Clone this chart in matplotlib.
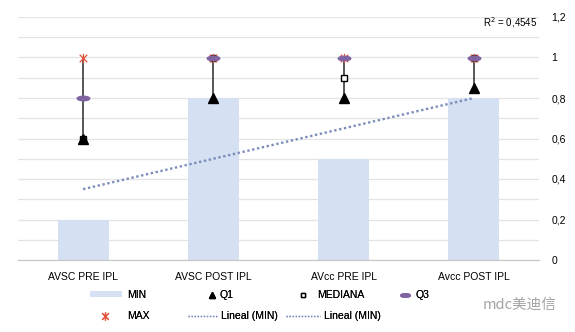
import numpy as np
import matplotlib
matplotlib.use("Agg")
import matplotlib.pyplot as plt
from matplotlib.path import Path
from matplotlib.lines import Line2D
from matplotlib.patches import Patch
from matplotlib.ticker import FuncFormatter, MultipleLocator

plt.rcParams['font.family'] = ['Liberation Sans', 'DejaVu Sans']

categories = ["AVSC PRE IPL", "AVSC POST IPL", "AVcc PRE IPL", "Avcc POST IPL"]
v_min = [0.2, 0.8, 0.5, 0.8]
v_q1 = [0.6, 0.8, 0.8, 0.85]
v_median = [0.6, 1.0, 0.9, 1.0]
v_q3 = [0.8, 1.0, 1.0, 1.0]
v_max = [1.0, 1.0, 1.0, 1.0]

bar_color = "#d5e0f2"
q3_color = "#8064a2"
max_color = "#e2533e"
trend_color = "#7b8dbb"
grid_color = "#e4e4e4"
FS = 7.5

# custom markers: a flat pill for Q3 and an asterisk-star for MAX
t = np.linspace(0, 2 * np.pi, 40)
pill = Path(np.column_stack([np.cos(t), 0.36 * np.sin(t)]), closed=True)
star = Path([(0, -1), (0, 1), (-0.8, -0.8), (0.8, 0.8), (-0.8, 0.8), (0.8, -0.8)],
            [Path.MOVETO, Path.LINETO, Path.MOVETO, Path.LINETO, Path.MOVETO, Path.LINETO])

W, H = 575, 332
fig = plt.figure(figsize=(W / 100, H / 100), dpi=100)
ax = fig.add_axes([18 / W, 1 - 260 / H, (539 - 18) / W, (260 - 17) / H])

x = np.arange(1, len(categories) + 1)
ax.bar(x, v_min, width=0.39, color=bar_color, zorder=2)

# high-low lines
ax.vlines(x, v_q1, v_max, color="#2a2a2a", lw=1.1, zorder=3)

ax.plot(x, v_median, ls="none", marker="s", ms=3.8, mfc="white", mec="black", mew=1, zorder=4)
ax.plot(x, v_q1, ls="none", marker="^", ms=6.5, color="black", zorder=5)
ax.plot(x, v_max, ls="none", marker=star, ms=6.8, mec=max_color, mew=0.9, zorder=6)
ax.plot(x, v_q3, ls="none", marker=pill, ms=9, mfc=q3_color, mec=q3_color, zorder=7)

# linear trend of MIN
coef = np.polyfit(x, v_min, 1)
fit = np.polyval(coef, x)
ss_res = np.sum((np.array(v_min) - fit) ** 2)
ss_tot = np.sum((np.array(v_min) - np.mean(v_min)) ** 2)
r2 = 1 - ss_res / ss_tot
ax.plot(x, fit, ls=(0, (1, 1.1)), color=trend_color, lw=1.7, zorder=3)
ax.text(4.49, 1.17, "R$^2$ = " + f"{r2:.4f}".replace(".", ","), ha="right", va="center",
        fontsize=7)

ax.set_xlim(0.5, 4.5)
ax.set_ylim(0, 1.2)
ax.yaxis.set_major_locator(MultipleLocator(0.2))
ax.yaxis.set_minor_locator(MultipleLocator(0.1))
ax.yaxis.set_major_formatter(FuncFormatter(lambda v, p: f"{v:.1f}".rstrip("0").rstrip(".").replace(".", ",")))
ax.yaxis.tick_right()
ax.tick_params(axis="y", which="both", length=0, pad=9, labelsize=FS)
ax.tick_params(axis="x", length=0, pad=9, labelsize=FS)
ax.set_xticks(x)
ax.set_xticklabels(categories)
ax.grid(axis="y", which="both", color=grid_color, lw=0.9, zorder=0)
ax.set_axisbelow(True)
for s in ["top", "left", "right"]:
    ax.spines[s].set_visible(False)
ax.spines["bottom"].set_color("#c8c8c8")
ax.spines["bottom"].set_linewidth(0.9)

# legend entries, each placed by its handle box (pixels)
px = FS * 100 / 72


def entry(handle, box_left, box_right, text_x, y):
    hl = (box_right - box_left) / px
    leg = fig.legend(handles=[handle], loc="center left",
                     bbox_to_anchor=(box_left / W, 1 - y / H),
                     frameon=False, fontsize=FS, borderpad=0, borderaxespad=0,
                     handlelength=hl, handleheight=0.45,
                     handletextpad=(text_x - box_right) / px)
    fig.add_artist(leg)


entry(Patch(facecolor=bar_color, edgecolor="none", label="MIN"), 90, 122, 127, 295)
entry(Line2D([], [], ls="none", marker="^", ms=4.3, color="black", label="Q1"), 206, 218, 219, 295)
entry(Line2D([], [], ls="none", marker="s", ms=3.5, mfc="white", mec="black", label="MEDIANA"),
      297, 309, 317, 295)
entry(Line2D([], [], ls="none", marker=pill, ms=7, mfc=q3_color, mec=q3_color, label="Q3"),
      399, 411, 415, 295)
entry(Line2D([], [], ls="none", marker=star, ms=6, mec=max_color, mew=0.9, label="MAX"),
      99, 111, 127, 316)
entry(Line2D([], [], ls=(0, (1, 1.2)), color=trend_color, lw=1, label="Lineal (MIN)"),
      188, 218, 221, 316)
entry(Line2D([], [], ls=(0, (1, 1.2)), color=trend_color, lw=1, label="Lineal (MIN)"),
      286, 320, 324, 316)

fig.text(557 / W, 1 - 305 / H, "mdc美迪信", ha="right", va="center", fontsize=10.5,
         color="#a3a3a3", family=["Noto Sans CJK SC", "DejaVu Sans"])

fig.savefig("out.png", dpi=100)
